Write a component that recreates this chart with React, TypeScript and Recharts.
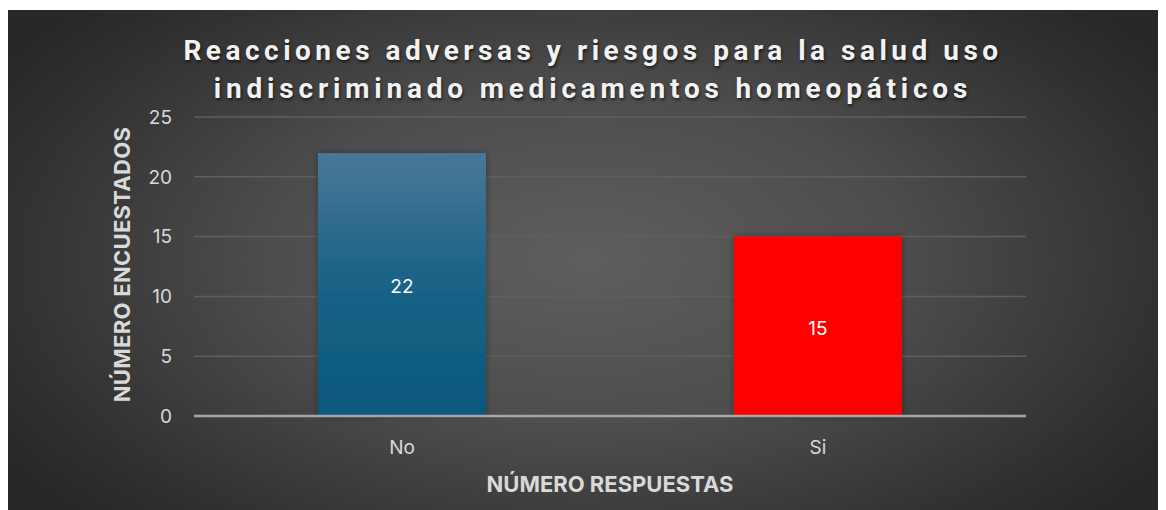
import React from "react";
import { BarChart, Bar, XAxis, YAxis, CartesianGrid, LabelList, Cell, Label, ReferenceLine } from "recharts";

const categories = ["No", "Si"];
const values = [22, 15];
const yTicks = [0, 5, 10, 15, 20, 25];
const barFills = ["url(#blueGrad)", "#ff0000"];

const data = categories.map((c, i) => ({ name: c, value: values[i] }));

const W = 1158;
const H = 500;
const font = "Inter, 'Open Sans', sans-serif";

export default function App() {
  return (
    <div
      style={{
        position: "relative",
        width: W,
        height: H,
        marginTop: 2,
        background: "radial-gradient(ellipse 60% 75% at 50% 50%, #5e5e5e 0%, #4d4d4d 45%, #303030 85%, #272727 100%)",
        fontFamily: font,
      }}
    >
      <div
        style={{
          position: "absolute",
          left: 0,
          width: W,
          top: 22,
          textAlign: "center",
          color: "#f2f2f2",
          fontFamily: "Roboto, Arial, sans-serif",
          fontWeight: 700,
          fontSize: 28,
          letterSpacing: 4.5,
          lineHeight: "38px",
          textShadow: "1px 2px 3px rgba(0,0,0,0.6)",
        }}
      >
        <div style={{ marginLeft: 12 }}>Reacciones adversas y riesgos para la salud uso</div>
        <div style={{ marginLeft: 12, letterSpacing: 4.8 }}>indiscriminado medicamentos homeopáticos</div>
      </div>
      <div style={{ position: "absolute", left: 0, top: 0 }}>
        <BarChart
          width={W}
          height={H}
          data={data}
          margin={{ top: 107, right: 140, bottom: 0, left: 100 }}
          barCategoryGap="29.8%"
        >
          <defs>
            <linearGradient id="blueGrad" x1="0" y1="0" x2="0" y2="1">
              <stop offset="0%" stopColor="#4b7797" />
              <stop offset="45%" stopColor="#1c6488" />
              <stop offset="100%" stopColor="#09577c" />
            </linearGradient>
            <filter id="barShadow" x="-10%" y="-10%" width="120%" height="120%">
              <feDropShadow dx="0" dy="0" stdDeviation="3" floodColor="#000" floodOpacity="0.35" />
            </filter>
          </defs>
          <CartesianGrid vertical={false} stroke="#5f5f5f" strokeWidth={1.5} />
          <XAxis
            dataKey="name"
            axisLine={false}
            tickLine={false}
            tickSize={0}
            tickMargin={25}
            height={94}
            tick={{ fill: "#d9d9d9", fontSize: 19, fontFamily: font }}
          >
            <Label
              value="NÚMERO RESPUESTAS"
              position="insideBottom"
              offset={18}
              style={{ fill: "#d9d9d9", fontSize: 22, fontWeight: 700, fontFamily: font }}
            />
          </XAxis>
          <YAxis
            domain={[0, 25]}
            ticks={yTicks}
            axisLine={false}
            tickLine={false}
            tickSize={0}
            tickMargin={22}
            width={86}
            tick={{ fill: "#d9d9d9", fontSize: 19, fontFamily: font }}
          >
            <Label
              value="NÚMERO ENCUESTADOS"
              angle={-90}
              position="insideLeft"
              offset={0}
              dx={14}
              dy={-2}
              style={{ textAnchor: "middle", fill: "#d9d9d9", fontSize: 22, letterSpacing: 0.3, fontWeight: 700, fontFamily: font }}
            />
          </YAxis>
          <Bar dataKey="value" isAnimationActive={false} style={{ filter: "url(#barShadow)" }}>
            {data.map((d, i) => (
              <Cell key={d.name} fill={barFills[i]} />
            ))}
            <LabelList dataKey="value" position="center" fill="#ffffff" fontSize={19} fontFamily={font} dy={2} />
          </Bar>
          <ReferenceLine y={0} stroke="#a6a6a6" strokeWidth={2.5} />
        </BarChart>
      </div>
    </div>
  );
}
